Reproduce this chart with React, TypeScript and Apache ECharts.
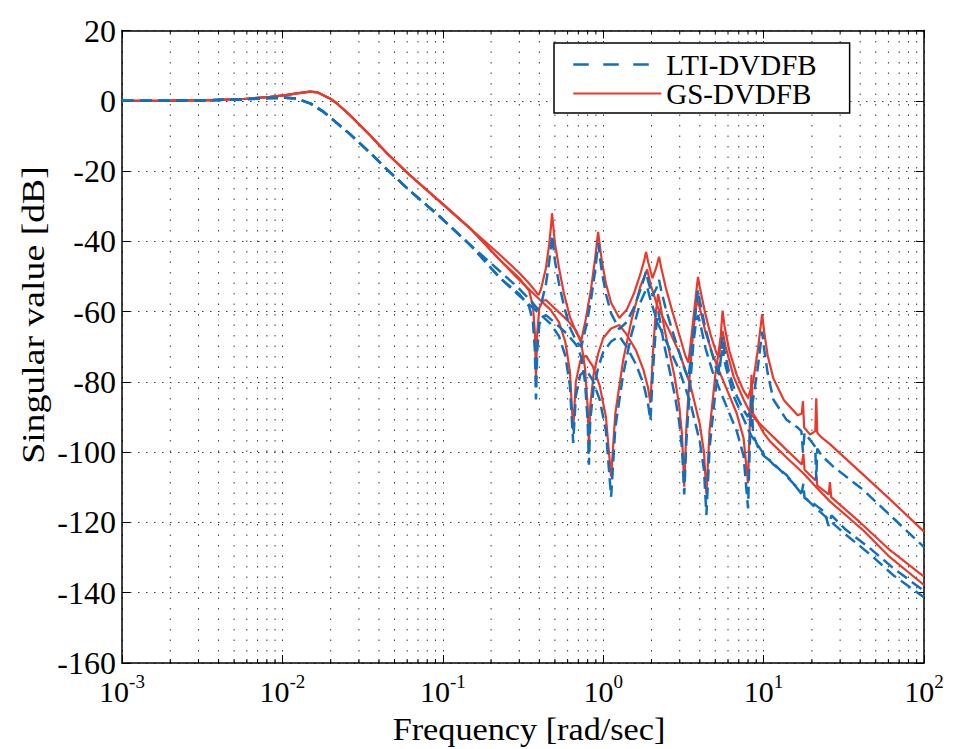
import React, { useEffect, useRef } from "react";
import * as echarts from "echarts";

const FONT = '"Liberation Serif", "Times New Roman", Times, serif';
const RED = "#e83a2c";
const BLUE = "#116fbd";

const X_MIN = 0.001;
const X_MAX = 100;
const Y_MIN = -160;
const Y_MAX = 20;
const Y_STEP = 20;
const DECADES = [0.001, 0.01, 0.1, 1, 10];
const MINOR_MULTS = [2, 3, 4, 5, 6, 7, 8, 9];

const LEGEND_LTI = "LTI-DVDFB";
const LEGEND_GS = "GS-DVDFB";

// [frequency rad/s, singular value dB]
const RED_LOW: number[][] = [
  [0.001, 0], [0.002, 0.05], [0.0035, 0.2], [0.0057, 0.5], [0.0084, 1.1], [0.0105, 1.6],
  [0.0123, 2.1], [0.0149, 2.6], [0.0165, 2.4], [0.018, 1.6], [0.0199, 0.6], [0.0218, -0.7],
  [0.0264, -4.1], [0.0352, -9.8], [0.045, -15], [0.0624, -21.2], [0.096, -28.7], [0.148, -36.3],
];
const RED_1: number[][] = [
  [0.228, -43.9], [0.3, -49], [0.35, -52.3], [0.38, -54.3], [0.395, -55.3], [0.41, -53.5],
  [0.44, -47.5], [0.46, -41], [0.472, -36], [0.48, -32], [0.487, -35], [0.5, -40.5], [0.53, -47.5],
  [0.57, -55], [0.62, -61.5], [0.68, -66], [0.73, -68.2], [0.78, -62], [0.84, -53.5], [0.89, -45],
  [0.915, -40], [0.93, -37.3], [0.945, -40], [0.98, -45.5], [1.04, -52], [1.12, -57.5], [1.26, -61.8],
  [1.4, -59.5], [1.55, -55], [1.7, -49.5], [1.8, -45.5], [1.85, -43], [1.91, -46], [2.03, -50.5],
  [2.14, -47.5], [2.23, -44.4], [2.3, -47.5], [2.45, -53], [2.7, -60], [3.0, -67], [3.25, -72.5],
  [3.4, -74.5], [3.6, -64.5], [3.78, -55.5], [3.9, -50.1], [4.0, -53], [4.3, -60], [4.7, -67],
  [5.1, -72], [5.3, -73], [5.45, -64.5], [5.55, -59.7], [5.7, -64], [6.1, -71], [6.8, -78],
  [7.5, -82.5], [8.0, -84.5], [8.6, -80], [9.2, -71], [9.6, -64], [9.8, -60.7], [10.1, -66],
  [10.6, -72.5], [11.5, -79], [13.4, -85.2], [16.3, -89.5], [17.3, -89], [17.6, -85.5], [17.9, -93],
  [19.5, -95], [21, -94], [21.3, -84.7], [21.6, -94.5], [23, -95.8], [25.9, -97.7], [40, -105.6],
  [60, -113], [100, -122.6],
];
const RED_2: number[][] = [
  [0.228, -45.4], [0.3, -50.5], [0.345, -54], [0.365, -58.5], [0.375, -66], [0.381, -78.5],
  [0.388, -66], [0.4, -59], [0.42, -57], [0.44, -56.7], [0.51, -59.5], [0.6, -62.5], [0.68, -65.5],
  [0.73, -69], [0.77, -76], [0.8, -87], [0.815, -98.8], [0.83, -87], [0.87, -78], [0.93, -72],
  [1.0, -67.5], [1.12, -64.8], [1.26, -63.8], [1.4, -66.5], [1.6, -71], [1.78, -76.5], [1.9, -81.5],
  [1.97, -86], [2.04, -72], [2.12, -61], [2.2, -55], [2.27, -58], [2.4, -64.5], [2.6, -72], [2.8, -79],
  [2.98, -87], [3.1, -95], [3.2, -109.8], [3.3, -93], [3.45, -79], [3.65, -65], [3.8, -58.5],
  [3.9, -57], [4.05, -60], [4.35, -66], [4.8, -72], [5.3, -77], [6.0, -83], [6.8, -89], [7.5, -96],
  [8.0, -108.8], [8.2, -92], [8.4, -78], [8.6, -89], [9.3, -91.5], [10, -93], [12, -96.5],
  [14, -99.5], [17.3, -103.5], [17.7, -100.5], [18, -105], [21, -108], [21.3, -106.5], [21.6, -109.5],
  [25.5, -112], [25.9, -108.5], [26.4, -112.8], [40, -120], [60, -127.5], [100, -135.4],
];
const RED_3: number[][] = [
  [0.228, -45.4], [0.3, -51], [0.4, -56.5], [0.47, -59.5], [0.53, -63], [0.58, -68.5], [0.62, -77],
  [0.65, -93.7], [0.675, -80], [0.72, -74], [0.78, -72.5], [0.86, -75.5], [0.95, -81], [1.04, -90],
  [1.12, -107], [1.19, -89], [1.33, -74], [1.5, -62.5], [1.7, -53], [1.88, -48], [1.98, -52.5],
  [2.2, -59], [2.5, -64], [3.0, -72], [3.5, -81], [4.0, -92], [4.25, -100], [4.4, -112], [4.6, -94],
  [5.0, -78], [5.35, -68.5], [5.55, -65.5], [5.8, -70], [6.5, -78.5], [7.5, -85], [8.3, -89],
  [9.2, -91.5], [10, -94.5], [11, -97], [13.9, -101.5], [17.7, -106], [21.3, -110], [25.9, -114],
  [41.9, -122.3], [60, -129.5], [100, -137.8],
];

const BLUE_LOW: number[][] = [
  [0.001, 0], [0.002, 0.05], [0.0035, 0.15], [0.0057, 0.4], [0.0084, 0.8], [0.0105, 0.85],
  [0.0123, 0.6], [0.015, -0.8], [0.018, -3.1], [0.0218, -6.3], [0.0264, -9.5], [0.0352, -14.8],
  [0.045, -19.6], [0.0624, -25.6], [0.096, -33], [0.148, -41],
];
const BLUE_1: number[][] = [
  [0.228, -48.6], [0.3, -53.5], [0.36, -57.3], [0.39, -59.3], [0.41, -58], [0.44, -52], [0.46, -46],
  [0.473, -41.5], [0.48, -38.2], [0.488, -41], [0.5, -45.5], [0.53, -52], [0.57, -58.5], [0.62, -64.5],
  [0.68, -68.5], [0.73, -70], [0.78, -64.5], [0.84, -56.5], [0.89, -48.5], [0.915, -43.5],
  [0.93, -40.5], [0.945, -43], [0.98, -48.5], [1.04, -55], [1.12, -60.5], [1.26, -65], [1.4, -63],
  [1.55, -59], [1.7, -54], [1.8, -50.5], [1.85, -48.6], [1.91, -51.5], [2.03, -55.5], [2.14, -53.5],
  [2.23, -51], [2.3, -54], [2.45, -59], [2.7, -65.5], [3.0, -72], [3.25, -77], [3.4, -79],
  [3.6, -69], [3.78, -59.5], [3.9, -53.9], [4.0, -57], [4.3, -64], [4.7, -71], [5.1, -76.5],
  [5.3, -78], [5.45, -71.5], [5.55, -67.1], [5.7, -71], [6.1, -77.5], [6.8, -84], [7.5, -88],
  [8.0, -90], [8.6, -85], [9.2, -76], [9.6, -69], [9.8, -65.7], [10.1, -71], [10.6, -77.5],
  [11.5, -85], [13.9, -90.8], [16.3, -93], [17.2, -94], [17.6, -100], [18, -94.5], [19.5, -96.5],
  [21, -98.5], [21.3, -108], [21.6, -99], [23, -101], [27.2, -104.1], [41.9, -110.8], [60, -117.5],
  [100, -127],
];
const BLUE_2: number[][] = [
  [0.228, -50.5], [0.3, -55], [0.345, -58.5], [0.365, -63], [0.375, -71], [0.381, -85], [0.388, -71],
  [0.4, -63.5], [0.42, -61.5], [0.44, -61], [0.51, -63.5], [0.6, -66.5], [0.68, -69.5], [0.73, -73],
  [0.77, -80], [0.8, -91], [0.815, -103.6], [0.83, -91], [0.87, -82], [0.93, -76], [1.0, -71.5],
  [1.12, -68.5], [1.26, -67], [1.4, -70], [1.6, -75], [1.78, -80.5], [1.9, -86], [1.97, -91],
  [2.04, -77], [2.12, -66], [2.2, -60], [2.27, -63], [2.4, -69.5], [2.6, -77], [2.8, -84],
  [2.98, -91.5], [3.1, -99], [3.2, -112], [3.3, -97], [3.45, -83], [3.65, -69], [3.8, -62.5],
  [3.9, -61], [4.05, -64], [4.35, -70.5], [4.8, -77], [5.3, -82], [6.0, -88], [6.8, -94],
  [7.5, -101], [8.0, -116], [8.2, -98], [8.4, -84], [8.6, -95], [9.3, -99], [10, -101],
  [11.5, -103.2], [14, -107], [16, -109.8], [17.3, -111.5], [17.7, -109], [18, -113], [21, -115],
  [24, -117], [25.4, -121], [26.5, -118], [32.6, -122.1], [45.9, -127.3], [64.3, -133], [100, -139.5],
];
const BLUE_3: number[][] = [
  [0.228, -50.5], [0.3, -55.5], [0.4, -60.5], [0.47, -63.5], [0.53, -67], [0.58, -72.5], [0.62, -81],
  [0.65, -97.4], [0.675, -84], [0.72, -78], [0.78, -76.5], [0.86, -79.5], [0.95, -85], [1.04, -94],
  [1.12, -112.7], [1.19, -93], [1.33, -78], [1.5, -66.5], [1.7, -57.5], [1.88, -53], [1.98, -57],
  [2.2, -63.5], [2.5, -69], [3.0, -77], [3.5, -86], [4.0, -97], [4.25, -105], [4.4, -117.9],
  [4.6, -99], [5.0, -83], [5.35, -74], [5.55, -71], [5.8, -75.5], [6.5, -84], [7.5, -90.5],
  [8.3, -95], [9.2, -98], [10, -100.5], [11.5, -103.5], [13.9, -106.5], [16, -110], [17.7, -112.5],
  [21.3, -116], [25.9, -119.5], [32.6, -123.5], [45.9, -129], [64.3, -135], [100, -141.3],
];

const RED_CURVES = [RED_1, RED_2, RED_3];
const BLUE_CURVES = [BLUE_1, BLUE_2, BLUE_3];

export default function App() {
  const ref = useRef<HTMLDivElement>(null);

  useEffect(() => {
    if (!ref.current) return;
    const chart = echarts.init(ref.current, undefined, { renderer: "svg" });

    const minor: number[] = [];
    DECADES.forEach((d) => MINOR_MULTS.forEach((m) => minor.push(d * m)));

    const axisLine = { show: true, onZero: false, lineStyle: { color: "#000", width: 1.5 } };
    const axisTick = { show: true, inside: true, length: 8, lineStyle: { color: "#000", width: 1 } };
    const gridDots = { show: true, lineStyle: { color: "#3a3a3a", width: 1, type: [1.5, 9] as any } };
    const hDots = { show: true, lineStyle: { color: "#3a3a3a", width: 1, type: [1.5, 6.5] as any } };

    const redSeries = RED_CURVES.map((c) => ({
      name: LEGEND_GS,
      type: "line",
      data: [...RED_LOW, ...c],
      symbol: "none",
      showSymbol: false,
      z: 3,
      lineStyle: { color: RED, width: 2.2 },
      itemStyle: { color: RED },
    }));
    const blueSeries = BLUE_CURVES.map((c) => ({
      name: LEGEND_LTI,
      type: "line",
      data: [...BLUE_LOW, ...c],
      symbol: "none",
      showSymbol: false,
      z: 4,
      lineStyle: { color: BLUE, width: 2.5, type: [12, 6] as any },
      itemStyle: { color: BLUE },
    }));

    const option: any = {
      animation: false,
      backgroundColor: "#fff",
      grid: { left: 122, right: 35, top: 30.5, bottom: 86, containLabel: false, outerBoundsMode: "none" },
      legend: {
        orient: "vertical",
        left: 554,
        top: 43,
        itemWidth: 88,
        itemHeight: 14,
        itemGap: 0,
        padding: [7, 33, 5, 18],
        backgroundColor: "#fff",
        borderColor: "#000",
        borderWidth: 1.5,
        borderRadius: 0,
        selectedMode: false,
        textStyle: { fontSize: 29, fontFamily: FONT, color: "#000", lineHeight: 29 },
        data: [
          {
            name: LEGEND_LTI,
            itemStyle: { opacity: 0 },
            lineStyle: { type: [15.5, 14.5], width: 2.5, color: BLUE },
          },
          { name: LEGEND_GS, itemStyle: { opacity: 0 }, lineStyle: { width: 2.2, color: RED } },
        ],
      },
      xAxis: [
        {
          type: "log",
          logBase: 10,
          min: X_MIN,
          max: X_MAX,
          splitNumber: 5,
          position: "bottom",
          axisLine,
          axisTick,
          splitLine: gridDots,
          axisLabel: {
            show: true,
            margin: 9,
            showMinLabel: true,
            showMaxLabel: true,
            formatter: (v: number) => `{b|10}{s|${Math.round(Math.log10(v))}}`,
            rich: {
              b: { fontSize: 30, fontFamily: FONT, color: "#000", padding: [4, 0, 0, 0] },
              s: { fontSize: 19, fontFamily: FONT, color: "#000", verticalAlign: "top" },
            },
          },
        },
        {
          type: "log",
          logBase: 10,
          min: X_MIN,
          max: X_MAX,
          splitNumber: 5,
          position: "top",
          axisLine,
          axisTick,
          splitLine: { show: false },
          axisLabel: { show: false },
        },
      ],
      yAxis: [
        {
          type: "value",
          min: Y_MIN,
          max: Y_MAX,
          interval: Y_STEP,
          position: "left",
          axisLine,
          axisTick,
          splitLine: hDots,
          axisLabel: { fontSize: 32, lineHeight: 15, fontFamily: FONT, color: "#000", margin: 6 },
        },
        {
          type: "value",
          min: Y_MIN,
          max: Y_MAX,
          interval: Y_STEP,
          position: "right",
          axisLine,
          axisTick,
          splitLine: { show: false },
          axisLabel: { show: false },
        },
      ],
      graphic: [
        {
          type: "text",
          x: 529,
          y: 729,
          scaleX: 1.07,
          style: {
            text: "Frequency [rad/sec]",
            fontSize: 32,
            fontFamily: FONT,
            fill: "#000",
            align: "center",
            verticalAlign: "middle",
          },
        },
        {
          type: "text",
          x: 33,
          y: 315,
          rotation: Math.PI / 2,
          scaleX: 1.18,
          style: {
            text: "Singular value [dB]",
            fontSize: 32,
            fontFamily: FONT,
            fill: "#000",
            align: "center",
            verticalAlign: "middle",
          },
        },
      ],
      series: [
        {
          type: "custom",
          coordinateSystem: "cartesian2d",
          silent: true,
          z: 1,
          clip: false,
          data: minor.map((v) => [v, Y_MIN]),
          renderItem: (params: any, api: any) => {
            const x = api.coord([api.value(0), Y_MIN])[0];
            const cs = params.coordSys;
            const top = cs.y;
            const bottom = cs.y + cs.height;
            return {
              type: "group",
              children: [
                {
                  type: "line",
                  shape: { x1: x, y1: top, x2: x, y2: bottom },
                  style: { stroke: "#3a3a3a", lineWidth: 1, lineDash: [1.5, 9] },
                },
                {
                  type: "line",
                  shape: { x1: x, y1: bottom, x2: x, y2: bottom - 4 },
                  style: { stroke: "#000", lineWidth: 1 },
                },
                {
                  type: "line",
                  shape: { x1: x, y1: top, x2: x, y2: top + 4 },
                  style: { stroke: "#000", lineWidth: 1 },
                },
              ],
            };
          },
        },
        ...redSeries,
        ...blueSeries,
      ],
    };

    chart.setOption(option);
    return () => chart.dispose();
  }, []);

  return (
    <div
      ref={ref}
      style={{ position: "fixed", left: 0, top: 0, width: 959, height: 749, background: "#fff" }}
    />
  );
}
